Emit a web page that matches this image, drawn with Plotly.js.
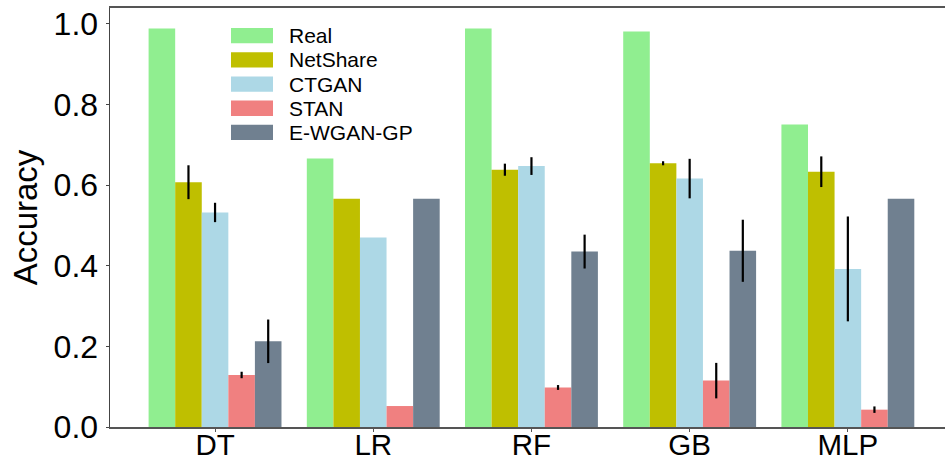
<!DOCTYPE html>
<html>
<head>
<meta charset="utf-8">
<script src="https://cdn.plot.ly/plotly-3.0.1.min.js"></script>
<style>
  html, body { margin: 0; padding: 0; background: #fff; }
  #chart { width: 945px; height: 462px; }
</style>
</head>
<body>
<div id="chart"></div>
<script>
// ---- data ----
const categories = ['DT', 'LR', 'RF', 'GB', 'MLP'];
const seriesNames = ['Real', 'NetShare', 'CTGAN', 'STAN', 'E-WGAN-GP'];
const realVals      = [0.988, 0.666, 0.988, 0.981, 0.750];
const netshareVals  = [0.607, 0.566, 0.638, 0.654, 0.633];
const netshareErr   = [0.042, 0,     0.015, 0.005, 0.038];
const ctganVals     = [0.532, 0.470, 0.647, 0.616, 0.392];
const ctganErr      = [0.024, 0,     0.022, 0.049, 0.130];
const stanVals      = [0.129, 0.052, 0.098, 0.115, 0.043];
const stanErr       = [0.008, 0,     0.006, 0.044, 0.008];
const ewganVals     = [0.2125, 0.566, 0.435, 0.437, 0.566];
const ewganErr      = [0.054, 0,     0.042, 0.077, 0];
const yTickVals     = [0, 0.2, 0.4, 0.6, 0.8, 1.0];
const yTickText     = ['0.0', '0.2', '0.4', '0.6', '0.8', '1.0'];

const colors = ['#90EE90', '#BFBF00', '#ADD8E6', '#F08080', '#708090'];
const values = [realVals, netshareVals, ctganVals, stanVals, ewganVals];
const errors = [null, netshareErr, ctganErr, stanErr, ewganErr];

const FONT = 'Liberation Sans, Arial, Helvetica, sans-serif';

const traces = values.map((v, i) => {
  const t = {
    type: 'bar',
    name: seriesNames[i],
    x: categories,
    y: v,
    marker: { color: colors[i], line: { width: 0 } },
    showlegend: false,
    hoverinfo: 'x+y+name'
  };
  if (errors[i]) {
    t.error_y = { type: 'data', array: errors[i], visible: true,
                  color: '#000000', thickness: 2.2, width: 0 };
  }
  return t;
});

// ---- custom legend (paper coords from pixel positions) ----
const plotL = 110, plotR = 945, plotT = 8, plotB = 427;
const px = x => (x - plotL) / (plotR - plotL);
const py = y => (plotB - y) / (plotB - plotT);
const shapes = [];
const annotations = [];
seriesNames.forEach((name, i) => {
  const top = 28 + i * 24.2;
  shapes.push({
    type: 'rect', xref: 'paper', yref: 'paper',
    x0: px(231), x1: px(273), y0: py(top + 15.3), y1: py(top),
    fillcolor: colors[i], line: { width: 0 }, layer: 'above'
  });
  annotations.push({
    xref: 'paper', yref: 'paper', x: px(287), y: py(top + 7.6),
    xanchor: 'left', yanchor: 'middle', showarrow: false,
    text: name, font: { family: FONT, size: 21, color: '#000' }
  });
});

const layout = {
  width: 945, height: 462,
  margin: { l: plotL, r: 0, t: plotT, b: 462 - plotB },
  paper_bgcolor: '#ffffff', plot_bgcolor: '#ffffff',
  barmode: 'group', bargap: 0.16, bargroupgap: 0,
  showlegend: false,
  font: { family: FONT, color: '#000' },
  xaxis: {
    type: 'category', range: [-0.664, 4.614],
    showgrid: false, zeroline: false,
    showline: true, linecolor: '#555555', linewidth: 2, mirror: true,
    ticks: 'outside', ticklen: 3, tickwidth: 1, tickcolor: '#555555',
    ticklabelstandoff: -12,
    tickfont: { family: FONT, size: 29.5, color: '#000' }
  },
  yaxis: {
    range: [0, 1.039],
    tickvals: yTickVals, ticktext: yTickText,
    showgrid: false, zeroline: false,
    showline: true, linecolor: '#444444', linewidth: 1.5,
    ticks: 'outside', ticklen: 3, tickwidth: 1, tickcolor: '#444444',
    ticklabelstandoff: 1,
    tickfont: { family: FONT, size: 32, color: '#000' },
    title: { text: 'Accuracy', font: { family: FONT, size: 33, color: '#000' }, standoff: 6 }
  },
  shapes: shapes,
  annotations: annotations
};

Plotly.newPlot('chart', traces, layout, { displayModeBar: false, staticPlot: true });
</script>
</body>
</html>
